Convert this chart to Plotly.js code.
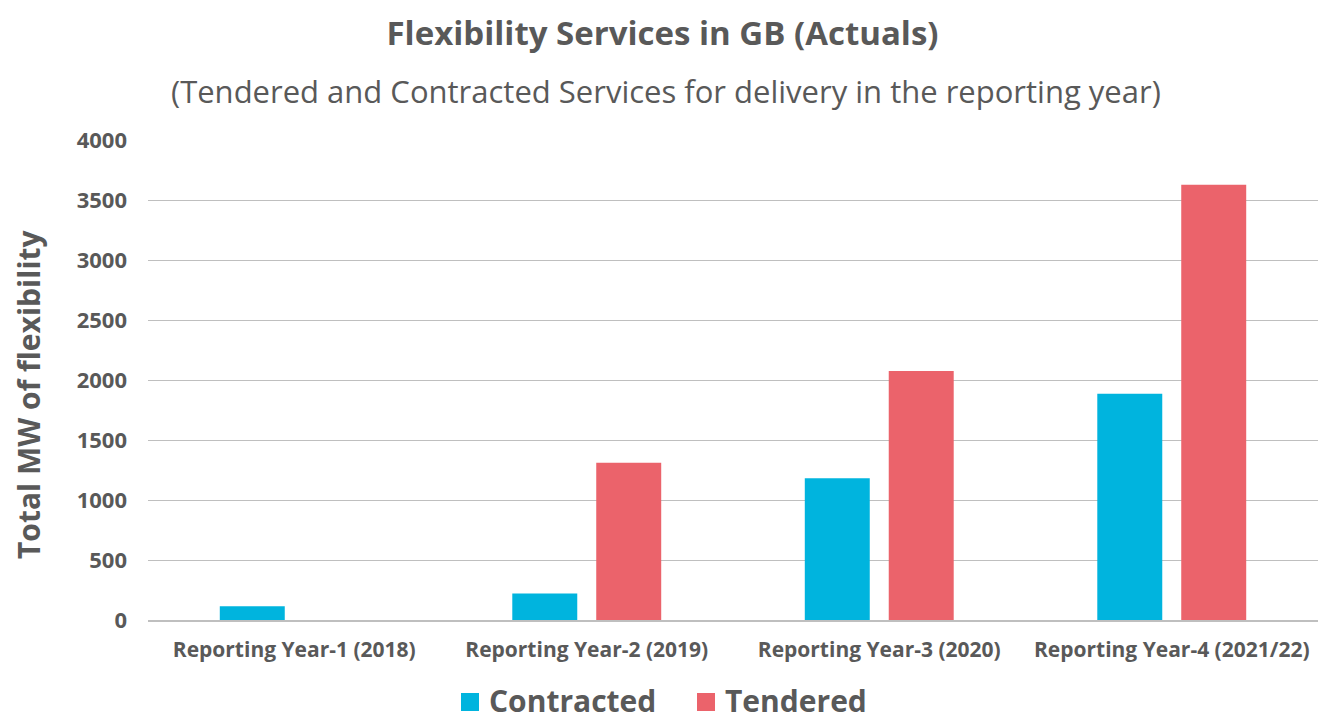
<!DOCTYPE html>
<html>
<head>
<meta charset="utf-8">
<script src="https://cdn.plot.ly/plotly-3.0.1.min.js"></script>
<style>html,body{margin:0;padding:0;background:#fff;}#chart{width:1325px;height:720px;}</style>
</head>
<body>
<div id="chart"></div>
<script>
const categories = ["Reporting Year-1 (2018)", "Reporting Year-2 (2019)", "Reporting Year-3 (2020)", "Reporting Year-4 (2021/22)"];
const seriesNames = ["Contracted", "Tendered"];
const contracted = [114, 220, 1181, 1885];
const tendered = [null, 1310, 2075, 3628];
const yTicks = [0, 500, 1000, 1500, 2000, 2500, 3000, 3500, 4000];
const colors = ["#00B4DE", "#EB636B"];

const FONT = "Open Sans, Noto Sans, sans-serif";
const TXT = "#595959";

const data = [
  {type: "bar", name: seriesNames[0], x: categories, y: contracted, marker: {color: colors[0]}, showlegend: false},
  {type: "bar", name: seriesNames[1], x: categories, y: tendered, marker: {color: colors[1]}, showlegend: false}
];

// plot area geometry (pixels): l=148, r=7, t=140, b=100 -> 1170 x 480
const PW = 1170, PH = 480, ML = 148;
const px2x = p => (p - ML) / PW;
const py2y = p => (620 - p) / PH;

// manual legend (squares + labels)
const legendItems = [
  {sq: 461, tx: 487, label: seriesNames[0], color: colors[0]},
  {sq: 697, tx: 723, label: seriesNames[1], color: colors[1]}
];
const shapes = legendItems.map(it => ({
  type: "rect", xref: "paper", yref: "paper",
  x0: px2x(it.sq), x1: px2x(it.sq + 18), y0: py2y(711), y1: py2y(693),
  fillcolor: it.color, line: {width: 0}
}));
const annotations = [
  {text: "(Tendered and Contracted Services for delivery in the reporting year)", xref: "paper", yref: "paper",
   x: px2x(666), y: py2y(91), xanchor: "center", yanchor: "middle", showarrow: false,
   font: {family: FONT, size: 31, color: TXT}},
  {text: "<b>Total MW of flexibility</b>", xref: "paper", yref: "paper",
   x: px2x(28), y: py2y(394), xanchor: "center", yanchor: "middle", textangle: -90, showarrow: false,
   font: {family: FONT, size: 30, color: TXT}}
].concat(legendItems.map(it => ({
  text: "<b>" + it.label + "</b>", xref: "paper", yref: "paper",
  x: px2x(it.tx), y: py2y(700), xanchor: "left", yanchor: "middle", showarrow: false,
  font: {family: FONT, size: 30, color: TXT}
})));

const layout = {
  width: 1325, height: 720,
  paper_bgcolor: "#ffffff", plot_bgcolor: "#ffffff",
  margin: {l: 148, r: 7, t: 140, b: 100},
  barmode: "group", bargap: 0.426, bargroupgap: 0.226,
  font: {family: FONT, color: TXT},
  showlegend: false,
  title: {text: "<b>Flexibility Services in GB (Actuals)</b>", font: {family: FONT, size: 33, color: TXT}, x: 0.5, xanchor: "center", y: 1 - 33/720, yanchor: "middle"},
  annotations: annotations,
  shapes: shapes,
  xaxis: {
    showgrid: false, showline: true, linecolor: "#BFBFBF", linewidth: 1.5,
    ticks: "", tickfont: {family: FONT, size: 21, color: TXT, weight: "bold"},
    ticklabelstandoff: 10, fixedrange: true, automargin: false
  },
  yaxis: {
    range: [0, 4000], tickvals: yTicks, ticktext: yTicks.map(String),
    showgrid: true, gridcolor: "#BFBFBF", gridwidth: 1.3, zeroline: false,
    ticks: "", tickfont: {family: FONT, size: 22, color: TXT, weight: "bold"},
    ticklabelstandoff: 20, automargin: false,
    fixedrange: true
  }
};

Plotly.newPlot("chart", data, layout, {displayModeBar: false});
</script>
</body>
</html>
